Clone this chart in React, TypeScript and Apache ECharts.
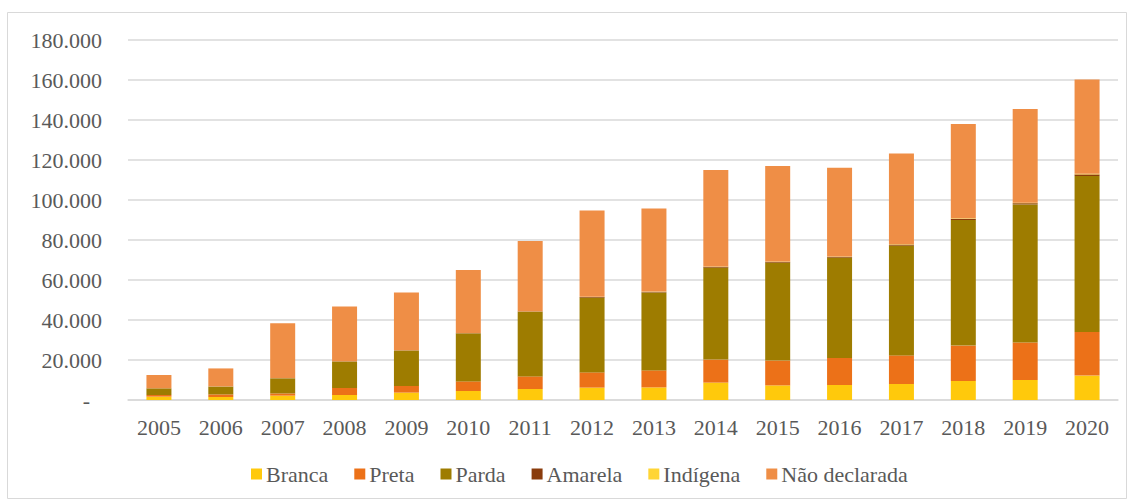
import React, { useEffect, useRef } from "react";
import * as echarts from "echarts";

const years = ["2005","2006","2007","2008","2009","2010","2011","2012","2013","2014","2015","2016","2017","2018","2019","2020"];
const branca = [1700,1500,2200,2500,3700,4500,5500,6200,6300,8700,7300,7500,8000,9500,10000,12200];
const preta = [800,1300,1100,3500,3300,4800,6300,7600,8500,11500,12400,13500,14300,17700,18800,21800];
const parda = [3300,3900,7500,13200,17700,23900,32200,37400,39000,46000,49000,50200,54900,62800,69000,78000];
const amarela = [60,60,100,150,150,200,250,300,300,400,400,400,500,600,600,800];
const indigena = [30,30,40,50,60,80,100,100,100,150,150,150,200,250,250,300];
const naoDeclarada = [6600,9000,27400,27400,28900,31500,35200,43100,41500,48300,47800,44400,45300,47100,46900,47200];

const seriesDefs = [
  { name: "Branca", data: branca, color: "#FFC90C" },
  { name: "Preta", data: preta, color: "#EC7118" },
  { name: "Parda", data: parda, color: "#9E7C00" },
  { name: "Amarela", data: amarela, color: "#8A3C0C" },
  { name: "Indígena", data: indigena, color: "#FFD535" },
  { name: "Não declarada", data: naoDeclarada, color: "#EF8E46" },
];

const FONT = "Times New Roman";
const FS = 22;

export default function App() {
  const ref = useRef<HTMLDivElement>(null);
  useEffect(() => {
    if (!ref.current) return;
    const chart = echarts.init(ref.current, null, { renderer: "svg" });
    chart.setOption({
      animation: false,
      backgroundColor: "#ffffff",
      textStyle: { fontFamily: FONT },
      graphic: [
        {
          type: "rect",
          shape: { x: 7.5, y: 12.5, width: 1119, height: 486 },
          style: { fill: "none", stroke: "#d9d9d9", lineWidth: 1 },
          silent: true,
        },
      ],
      grid: { left: 128, right: 10, top: 40, bottom: 99, containLabel: false },
      legend: {
        left: 251,
        top: 463,
        padding: 0,
        itemWidth: 11,
        itemHeight: 11,
        itemGap: 26,
        icon: "rect",
        textStyle: { fontFamily: FONT, fontSize: FS, color: "#595959", padding: [0, 0, 0, -1] },
        data: seriesDefs.map((s) => s.name),
      },
      xAxis: {
        type: "category",
        data: years,
        axisLine: { show: true, lineStyle: { color: "#d9d9d9", width: 1.5 } },
        axisTick: { show: false },
        axisLabel: { fontFamily: FONT, fontSize: FS, color: "#595959", margin: 16 },
      },
      yAxis: {
        type: "value",
        min: 0,
        max: 180000,
        interval: 20000,
        axisLine: { show: false },
        axisTick: { show: false },
        splitLine: { lineStyle: { color: "#d9d9d9", width: 1.5 } },
        axisLabel: {
          fontFamily: FONT,
          fontSize: FS,
          color: "#595959",
          margin: 26,
          formatter: (v: number) => (v === 0 ? "{dash|-}" : `${v / 1000}.000`),
          rich: { dash: { fontFamily: FONT, fontSize: FS, color: "#595959", padding: [0, 12, 0, 0] } },
        },
      },
      series: seriesDefs.map((s) => ({
        name: s.name,
        type: "bar",
        stack: "total",
        barWidth: 25,
        data: s.data,
        itemStyle: { color: s.color },
      })),
    });
    return () => chart.dispose();
  }, []);
  return (
    <div
      ref={ref}
      style={{ position: "absolute", left: 0, top: 0, width: 1128, height: 499 }}
    />
  );
}
